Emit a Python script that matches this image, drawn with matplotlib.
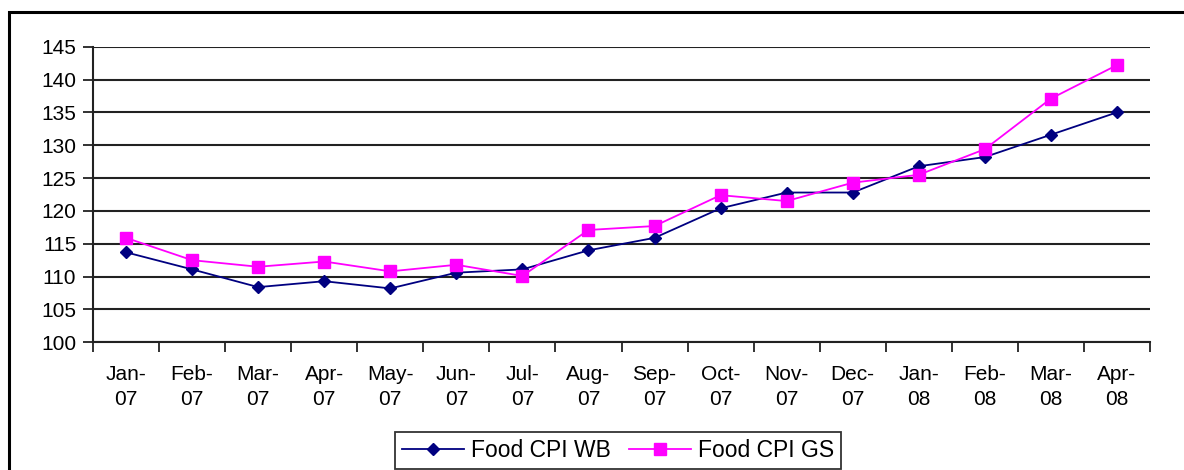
import matplotlib
matplotlib.use("Agg")
import matplotlib.pyplot as plt
import matplotlib.patches as mpatches

# ── data ──────────────────────────────────────────────────────────────────────
MONTHS = ["Jan-\n07", "Feb-\n07", "Mar-\n07", "Apr-\n07", "May-\n07", "Jun-\n07",
          "Jul-\n07", "Aug-\n07", "Sep-\n07", "Oct-\n07", "Nov-\n07", "Dec-\n07",
          "Jan-\n08", "Feb-\n08", "Mar-\n08", "Apr-\n08"]
CPI_WB = [113.7, 111.1, 108.4, 109.3, 108.2, 110.6, 111.1, 114.0,
          115.9, 120.4, 122.8, 122.8, 126.8, 128.2, 131.6, 135.0]
CPI_GS = [115.9, 112.5, 111.5, 112.3, 110.8, 111.8, 110.1, 117.1,
          117.7, 122.4, 121.5, 124.3, 125.5, 129.4, 137.1, 142.2]
Y_TICKS = list(range(100, 146, 5))

# ── plot ──────────────────────────────────────────────────────────────────────
plt.rcParams["font.family"] = ["Liberation Sans", "DejaVu Sans"]

W, H = 1184, 470
fig = plt.figure(figsize=(W / 100, H / 100), dpi=100)
fig.patch.set_facecolor("white")

ax = fig.add_axes([93 / W, 1 - 342.3 / H, (1150 - 93) / W, (342.3 - 46.7) / H])

x = list(range(len(MONTHS)))
ax.plot(x, CPI_WB, color="#000080", lw=1.3, marker="D", ms=6.5,
        mfc="#000080", mec="#000080", label="Food CPI WB", zorder=3)
ax.plot(x, CPI_GS, color="#FF00FF", lw=1.3, marker="s", ms=8,
        mfc="#FF00FF", mec="#FF00FF", label="Food CPI GS", zorder=3)

ax.set_xlim(-0.5, len(MONTHS) - 0.5)
ax.set_ylim(100, 145)
ax.set_yticks(Y_TICKS)
ax.yaxis.grid(True, color="#222222", lw=1.5)
ax.set_axisbelow(True)

# category labels centred, ticks between categories
ax.set_xticks(x)
ax.set_xticklabels(MONTHS, fontsize=15, linespacing=1.45)
ax.set_xticks([i - 0.5 for i in range(len(MONTHS) + 1)], minor=True)
ax.tick_params(axis="x", which="major", length=0, pad=16)
ax.tick_params(axis="x", which="minor", length=7, width=1.3, color="#222222")
ax.tick_params(axis="y", length=7, width=1.3, color="#222222",
               labelsize=15, pad=5)

for side in ("top", "right"):
    ax.spines[side].set_visible(False)
for side in ("left", "bottom"):
    ax.spines[side].set_color("#222222")
    ax.spines[side].set_linewidth(1.5)

# legend
leg = fig.legend(loc="upper center", bbox_to_anchor=(618 / W, 1 - 432 / H),
                 ncol=2, fontsize=16.5, frameon=True, fancybox=False,
                 edgecolor="black", borderpad=0.3, borderaxespad=0,
                 handlelength=2.7, columnspacing=0.8, handletextpad=0.3)
leg.get_frame().set_linewidth(1.3)

# outer chart border (runs off right and bottom)
fig.patches.append(mpatches.Rectangle((9 / W, -0.1), 1.2, 1.1 - 12 / H,
                                      transform=fig.transFigure, fill=False,
                                      edgecolor="black", lw=2.2))

# title, mostly clipped at the top
fig.text(786 / W, 1 + 3.5 / H, "Food CPI Monthly (index points)", ha="right",
         va="baseline", fontsize=15, fontweight="bold")

fig.savefig("out.png", dpi=100, facecolor="white")
